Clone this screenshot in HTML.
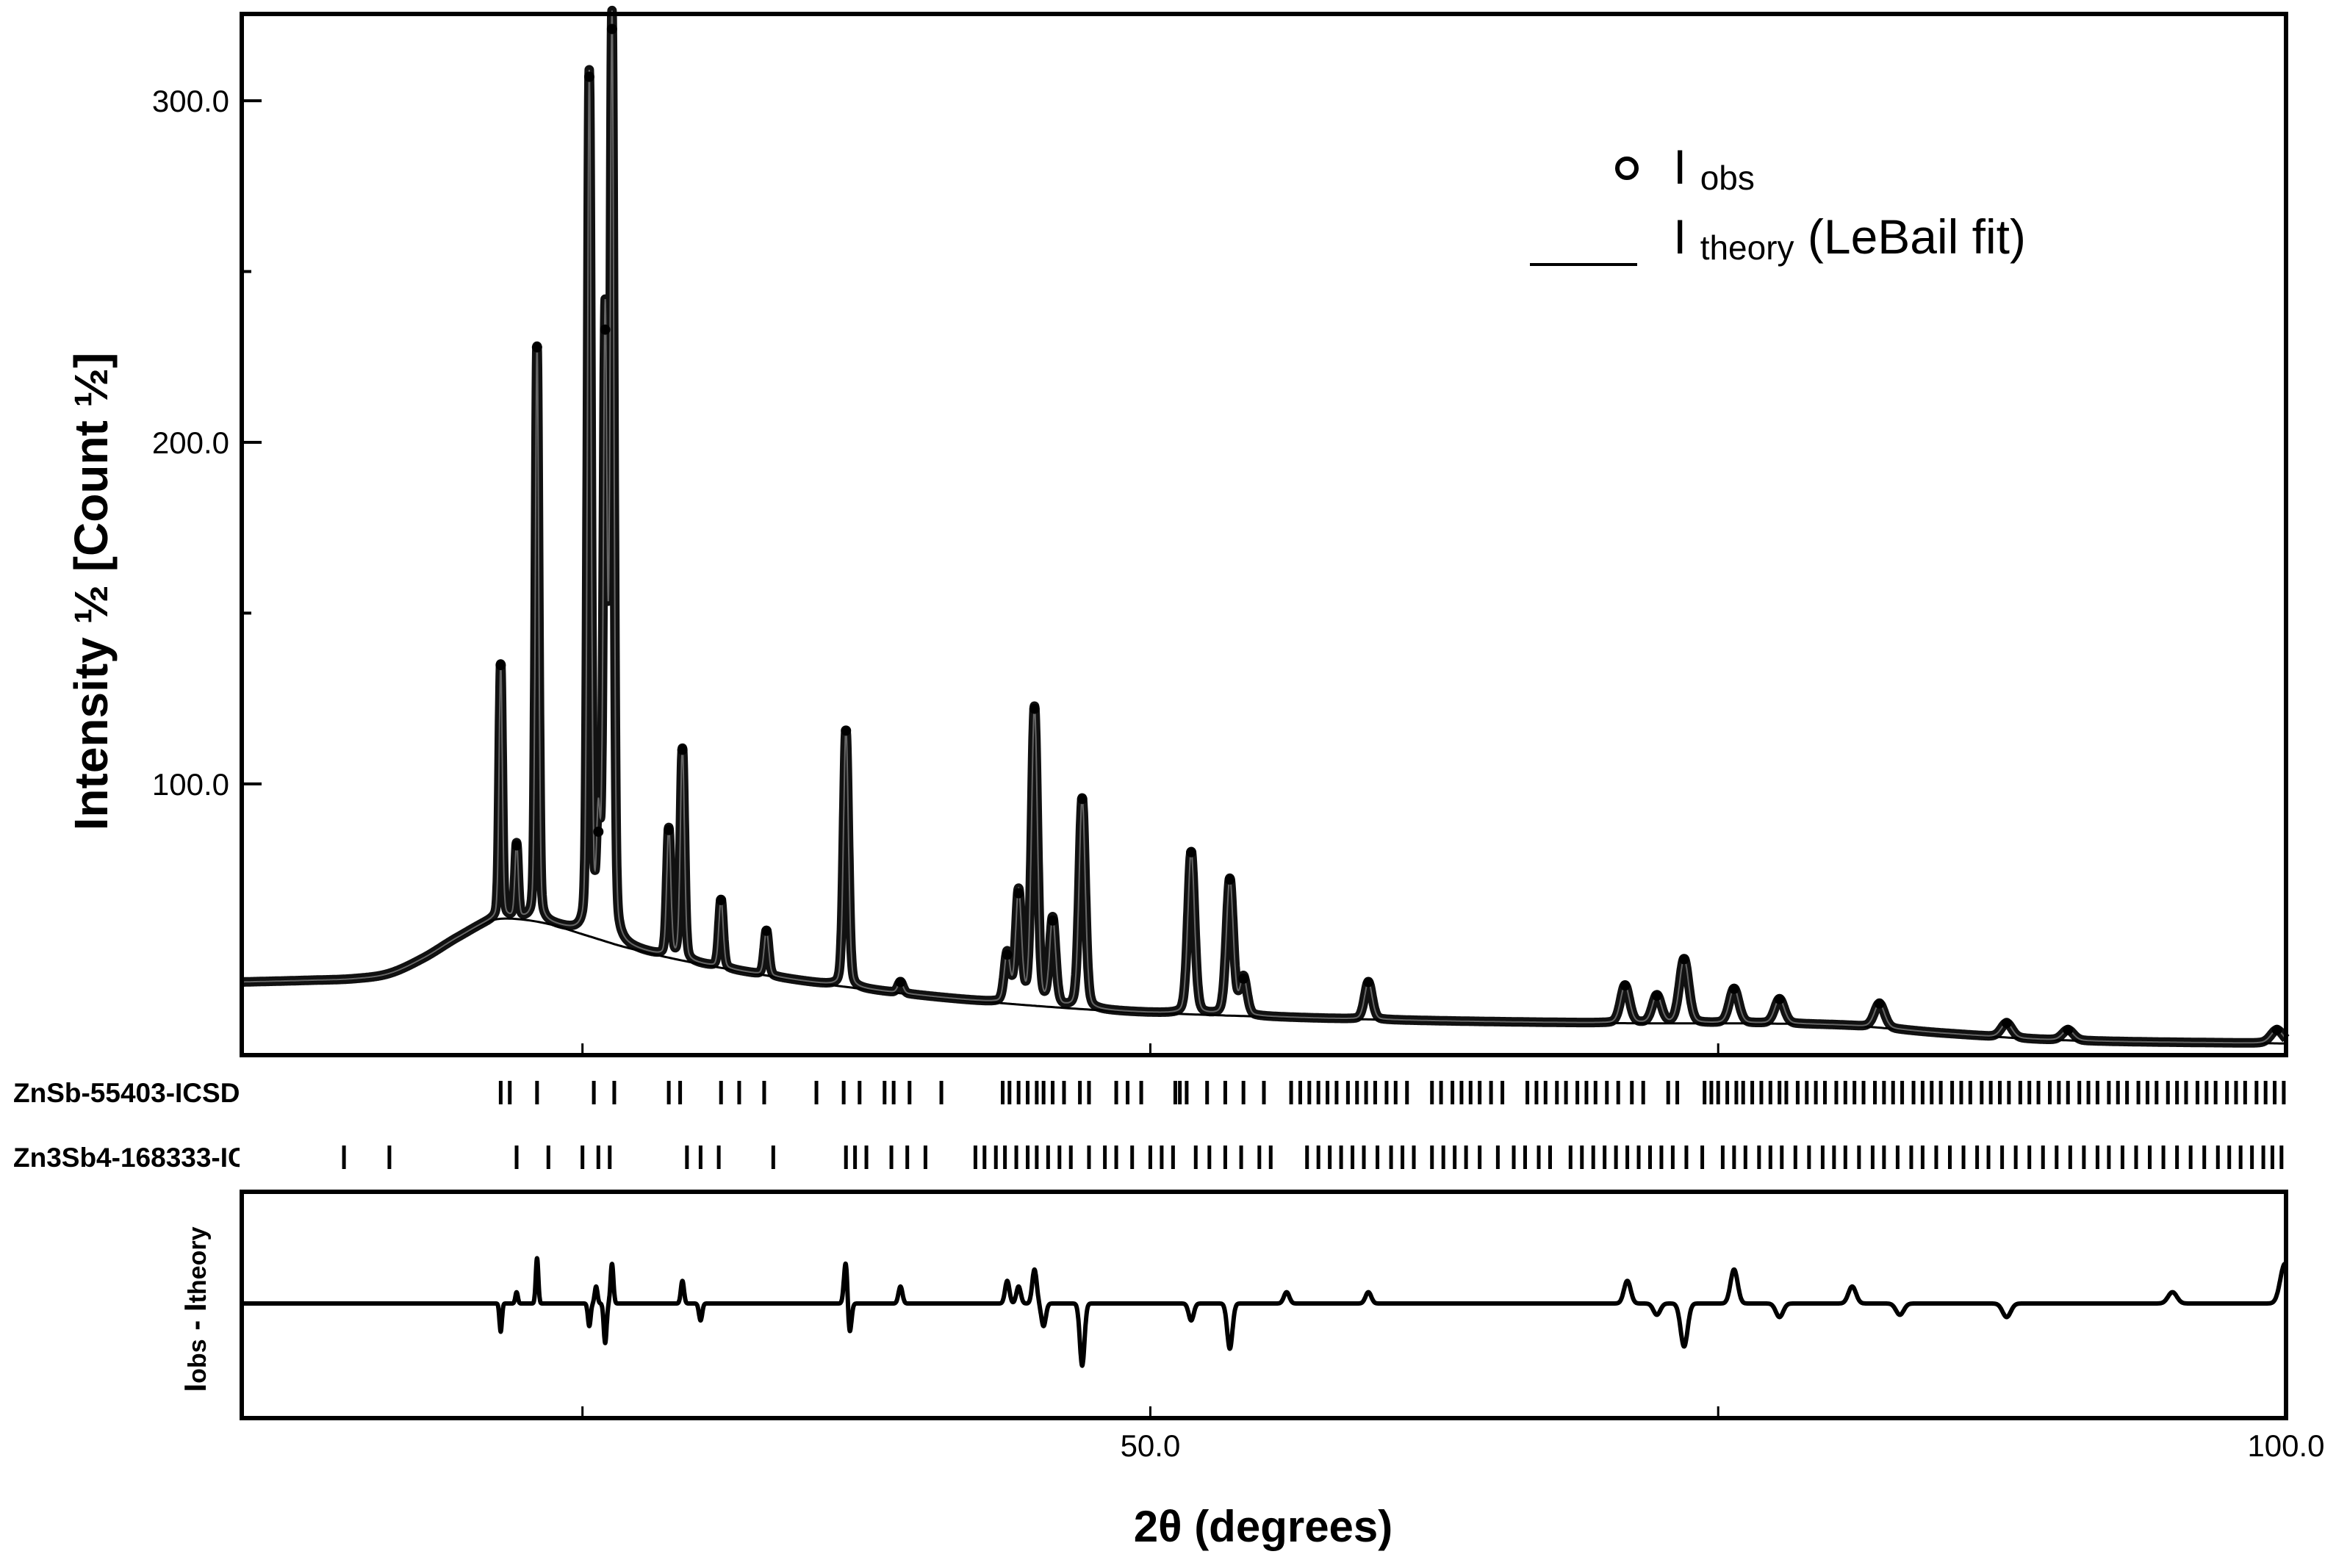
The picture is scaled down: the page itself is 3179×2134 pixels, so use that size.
<!DOCTYPE html>
<html><head><meta charset="utf-8"><style>
html,body{margin:0;padding:0;background:#fff;}
svg{display:block;font-family:"Liberation Sans",sans-serif;}
</style></head><body>
<svg id="chart" width="3179" height="2134" viewBox="0 0 3179 2134" xmlns="http://www.w3.org/2000/svg">
<rect x="0" y="0" width="3179" height="2134" fill="#fff"/>
<g id="marks"></g>
<rect x="329" y="19" width="2782" height="1417" fill="none" stroke="#000" stroke-width="6"/>
<rect x="329" y="1622" width="2782" height="308" fill="none" stroke="#000" stroke-width="6"/>
<text transform="translate(146,805) rotate(-90)" text-anchor="middle" font-size="64" font-weight="bold">Intensity ½ [Count ½]</text>
<text transform="translate(280,1782) rotate(-90)" text-anchor="middle" font-size="42" font-weight="bold">I<tspan font-size="34">obs</tspan> - I<tspan font-size="34">theory</tspan></text>
<text x="1719" y="2098" text-anchor="middle" font-size="60" font-weight="bold">2θ (degrees)</text>
<g>
<circle cx="2214" cy="229" r="13" fill="none" stroke="#000" stroke-width="6"/>
<text x="2277" y="250" font-size="66">I <tspan font-size="46" dy="8">obs</tspan></text>
<line x1="2082" y1="360" x2="2228" y2="360" stroke="#000" stroke-width="4"/>
<text x="2277" y="345" font-size="66">I <tspan font-size="46" dy="8">theory</tspan><tspan dy="-8"> (LeBail fit)</tspan></text>
</g>
<svg x="18" y="1460" width="308" height="140" overflow="hidden">
<text x="0" y="40" font-size="37" font-weight="bold">ZnSb-55403-ICSD</text>
<text x="0" y="128" font-size="37" font-weight="bold">Zn3Sb4-168333-ICSD</text>
</svg>
</svg>
<script>
// ---- data ----
const peakPos = [21.4,22.1,23.0,25.3,25.7,26.0,26.3,28.8,29.4,31.1,33.1,36.6,39.0,43.7,44.2,44.9,45.7,47.0,51.8,53.5,54.1,59.6,70.9,72.3,73.5,75.7,77.7,82.1,87.7,90.4,99.6];
const peakHeight = [134.8,82,227.8,307,86,233,321,86.5,110,66,57,115.6,42,50,68,122,60,95.6,80,72,43,42,41,38,48.7,40,37,35.7,30,28,28];
const bgX = [10,13,15,16.5,18,19.5,21,22,23.5,25,27,30,35,40,45,50,60,70,80,85,90,100];
const bgY = [42,42.5,43,44.5,49,55,60,60.5,59,56,52,47.5,42,38,35,33,31,30,29.5,27,25,24];
const resPos = [21.4,22.1,23.0,25.3,25.6,26.0,26.3,29.4,30.2,36.6,36.75,39.0,43.7,44.2,44.9,45.3,47.0,51.8,53.5,56,59.6,71.0,72.3,73.5,75.7,77.7,80.9,83,87.7,95,99.95];
const resAmp = [-0.25,0.1,0.4,-0.2,0.15,-0.35,0.35,0.2,-0.15,0.4,-0.3,0.15,0.2,0.15,0.3,-0.2,-0.55,-0.15,-0.4,0.1,0.1,0.2,-0.1,-0.38,0.3,-0.12,0.15,-0.1,-0.12,0.1,0.35];
const znsbTicks = [21.4,21.8,23.0,25.5,26.4,28.8,29.3,31.1,31.9,33.0,35.3,36.5,37.2,38.3,38.7,39.4,40.8,43.5,43.8,44.2,44.6,45.0,45.3,45.7,46.2,46.9,47.3,48.5,49.0,49.6,51.1,51.3,51.6,52.5,53.3,54.1,55.0,56.2,56.6,57.0,57.4,57.8,58.2,58.7,59.1,59.5,59.9,60.4,60.8,61.3,62.4,62.8,63.3,63.7,64.1,64.5,65.0,65.5,66.6,67.0,67.4,67.9,68.3,68.8,69.2,69.6,70.1,70.6,71.2,71.7,72.8,73.2,74.4,74.7,75.0,75.4,75.8,76.1,76.5,76.9,77.3,77.7,78.0,78.5,78.9,79.3,79.7,80.2,80.6,81.0,81.4,81.9,82.3,82.7,83.1,83.6,84.0,84.4,84.8,85.3,85.7,86.1,86.6,87.0,87.4,87.8,88.3,88.7,89.1,89.6,90.0,90.4,90.9,91.3,91.7,92.2,92.6,93.0,93.5,93.9,94.3,94.8,95.2,95.6,96.1,96.5,96.9,97.4,97.8,98.2,98.7,99.1,99.5,99.9];
const zn3sb4Ticks = [14.5,16.5,22.1,23.5,25.0,25.7,26.2,29.6,30.2,31.0,33.4,36.6,37.0,37.5,38.6,39.3,40.1,42.3,42.7,43.2,43.6,44.1,44.6,45.0,45.5,46.0,46.5,47.3,48.0,48.5,49.2,50.0,50.5,51.0,52.0,52.6,53.3,54.0,54.8,55.3,56.9,57.4,57.9,58.4,58.9,59.4,60.0,60.6,61.1,61.6,62.4,62.9,63.4,63.9,64.5,65.3,66.0,66.5,67.1,67.6,68.5,69.0,69.5,70.0,70.5,71.0,71.5,72.0,72.5,73.0,73.6,74.3,75.2,75.7,76.2,76.8,77.3,77.8,78.4,79.0,79.6,80.1,80.6,81.2,81.8,82.3,82.9,83.5,84.0,84.6,85.2,85.8,86.4,86.9,87.5,88.1,88.7,89.3,89.9,90.5,91.1,91.7,92.2,92.8,93.4,94.0,94.6,95.2,95.8,96.4,97.0,97.5,98.0,98.5,99.0,99.4,99.8];
const xTickVals = [25,50,75,100];
const xTickLabels = ["","50.0","","100.0"];
const yTickVals = [100,150,200,250,300];
const yTickLabels = ["100.0","","200.0","","300.0"];

// ---- scales ----
const X0=329, X1=3111, XMIN=10, XMAX=100;
const Y0=1436, Y1=19, YMIN=20.6, YMAX=325.4;
const RZ=1774, RH=154;
const sx = v => X0 + (v-XMIN)/(XMAX-XMIN)*(X1-X0);
const sy = v => Y0 - (v-YMIN)/(YMAX-YMIN)*(Y0-Y1);
const sr = v => RZ - v*RH;
function bg(x){
  const n=bgX.length;
  if(x<=bgX[0])return bgY[0];
  if(x>=bgX[n-1])return bgY[n-1];
  let i=0; while(x>bgX[i+1])i++;
  const h=bgX[i+1]-bgX[i], t=(x-bgX[i])/h;
  const m=j=>{ if(j<=0) return (bgY[1]-bgY[0])/(bgX[1]-bgX[0]); if(j>=n-1) return (bgY[n-1]-bgY[n-2])/(bgX[n-1]-bgX[n-2]); return (bgY[j+1]-bgY[j-1])/(bgX[j+1]-bgX[j-1]); };
  const t2=t*t,t3=t2*t;
  return (2*t3-3*t2+1)*bgY[i]+(t3-2*t2+t)*h*m(i)+(-2*t3+3*t2)*bgY[i+1]+(t3-t2)*h*m(i+1);
}
const hw = x => 0.05+0.003*(x-10);
function profile(x){
  let y=bg(x);
  for(let i=0;i<peakPos.length;i++){
    const a=peakHeight[i]-bg(peakPos[i]);const w=hw(peakPos[i]);const d=(x-peakPos[i])/w;
    y+=a*(0.25/(1+d*d)+0.75*Math.exp(-0.693*d*d));
  }
  return y;
}
function resid(x){
  let y=0;
  for(let i=0;i<resPos.length;i++){const w=hw(resPos[i])*0.9;const d=(x-resPos[i])/w;y+=resAmp[i]*Math.exp(-d*d);}
  return y;
}
const NS="http://www.w3.org/2000/svg";
const g=document.getElementById('marks');
function mk(tag,attrs){const e=document.createElementNS(NS,tag);for(const k in attrs)e.setAttribute(k,attrs[k]);g.appendChild(e);return e;}
let dObs="",dRes="";
for(let x=XMIN;x<=XMAX+1e-9;x+=0.01){
  dObs+=(dObs?"L":"M")+sx(x).toFixed(1)+","+sy(profile(x)).toFixed(1);
  dRes+=(dRes?"L":"M")+sx(x).toFixed(1)+","+sr(resid(x)).toFixed(1);
}
let dBg="";
for(let x=XMIN;x<=XMAX+1e-9;x+=0.1){dBg+=(dBg?"L":"M")+sx(x).toFixed(1)+","+sy(bg(x)).toFixed(1);}
const obs=mk('path',{d:dObs,fill:'none',stroke:'#111','stroke-width':13,'stroke-linejoin':'round'});


const bgl=mk('path',{d:dBg,fill:'none',stroke:'#000','stroke-width':3});


const th=mk('path',{d:dObs,fill:'none',stroke:'#666','stroke-width':2});


for(let i=0;i<peakPos.length;i++){
  const c=mk('circle',{cx:sx(peakPos[i]),cy:sy(peakHeight[i]),r:7,fill:'#000'});
  
  
}
const res=mk('path',{d:dRes,fill:'none',stroke:'#000','stroke-width':6,'stroke-linejoin':'round'});


znsbTicks.forEach(v=>{
  const t=mk('rect',{x:sx(v)-2.5,y:1471,width:5,height:32,fill:'#000'});
  
  
});
zn3sb4Ticks.forEach(v=>{
  const t=mk('rect',{x:sx(v)-2.5,y:1559,width:5,height:32,fill:'#000'});
  
  
});
xTickVals.forEach((v,i)=>{
  const a=mk('line',{x1:sx(v),y1:1436,x2:sx(v),y2:1420,stroke:'#000','stroke-width':3});
  
  
  const b=mk('line',{x1:sx(v),y1:1930,x2:sx(v),y2:1914,stroke:'#000','stroke-width':3});
  
  
  if(xTickLabels[i]){
    const t=mk('text',{x:sx(v),y:1982,'text-anchor':'middle','font-size':42});
    t.textContent=xTickLabels[i];
    
    
  }
});
yTickVals.forEach((v,i)=>{
  const a=mk('line',{x1:329,y1:sy(v),x2:yTickLabels[i]?356:342,y2:sy(v),stroke:'#000','stroke-width':4});
  
  
  if(yTickLabels[i]){
    const t=mk('text',{x:312,y:sy(v)+15,'text-anchor':'end','font-size':42});
    t.textContent=yTickLabels[i];
    
    
  }
});
</script>
</body></html>
